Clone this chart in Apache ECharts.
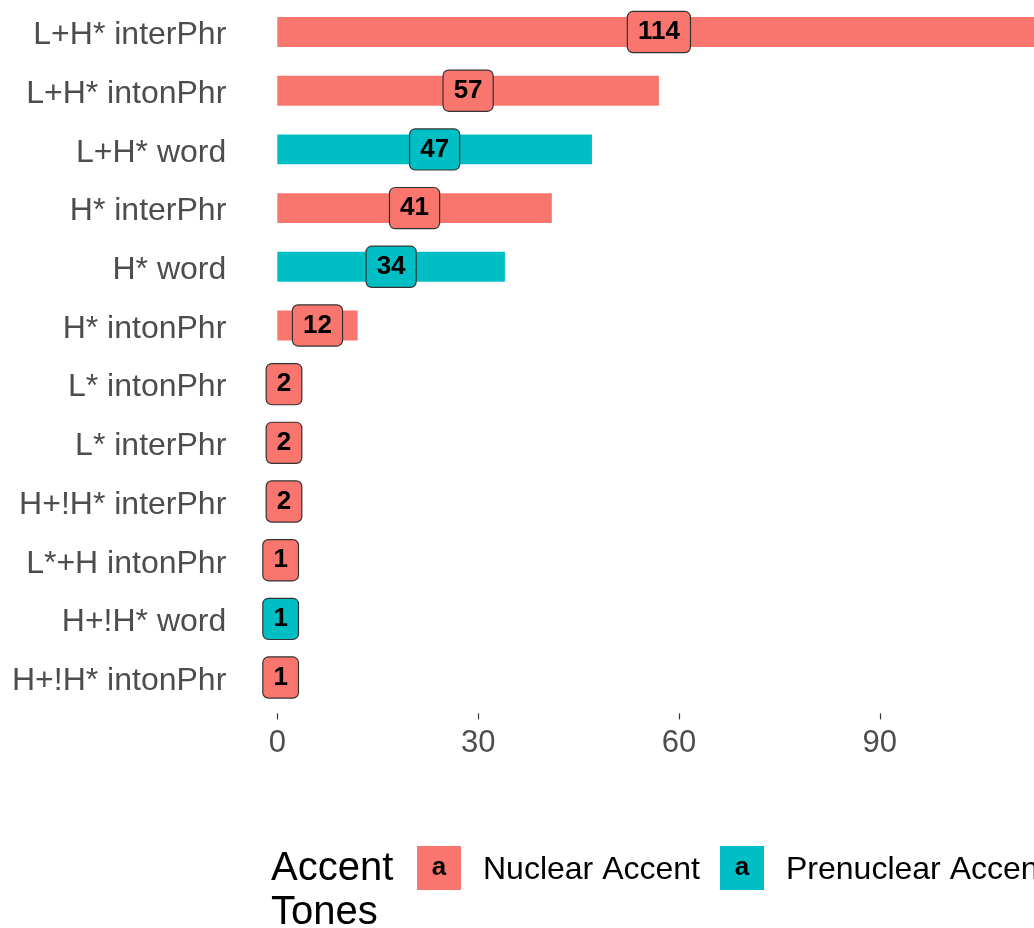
<!DOCTYPE html>
<html>
<head>
<meta charset="utf-8">
<script src="https://cdn.jsdelivr.net/npm/echarts@6.0.0/dist/echarts.min.js"></script>
<style>
  html, body { margin: 0; padding: 0; background: #fff; }
  #chart { width: 1034px; height: 928px; }
</style>
</head>
<body>
<div id="chart"></div>
<script>
// data, top row first
var categories = ['L+H* interPhr', 'L+H* intonPhr', 'L+H* word', 'H* interPhr', 'H* word', 'H* intonPhr',
  'L* intonPhr', 'L* interPhr', 'H+!H* interPhr', 'L*+H intonPhr', 'H+!H* word', 'H+!H* intonPhr'];
var counts = [114, 57, 47, 41, 34, 12, 2, 2, 2, 1, 1, 1];
var toneType = ['Nuclear Accent', 'Nuclear Accent', 'Prenuclear Accent', 'Nuclear Accent', 'Prenuclear Accent',
  'Nuclear Accent', 'Nuclear Accent', 'Nuclear Accent', 'Nuclear Accent', 'Nuclear Accent',
  'Prenuclear Accent', 'Nuclear Accent'];
var groups = ['Nuclear Accent', 'Prenuclear Accent'];
var xTicks = [0, 30, 60, 90, 120];

var colors = ['#F8766D', '#00BFC4'];
var fontFam = '"Liberation Sans", Arial, sans-serif';

var chart = echarts.init(document.getElementById('chart'));

function groupSeries(g, i) {
  return {
    name: g,
    type: 'bar',
    barWidth: '51%',
    barGap: '-100%',
    itemStyle: { color: colors[i] },
    data: counts.map(function (v, k) { return toneType[k] === g ? v : '-'; }),
    label: {
      show: true,
      position: 'inside',
      formatter: '{c}',
      color: '#000',
      fontFamily: fontFam,
      fontWeight: 'bold',
      fontSize: 26,
      lineHeight: 26,
      backgroundColor: colors[i],
      borderColor: '#333',
      borderWidth: 1.2,
      borderRadius: 5,
      padding: [8, 10, 6, 10]
    }
  };
}

// legend drawn by hand (keys with the "a" glyph like ggplot)
function legendKey(x, i, text) {
  return [
    { type: 'rect', left: x, top: 846, shape: { width: 44, height: 44 }, style: { fill: colors[i] } },
    { type: 'text', x: x + 22, y: 868, style: { text: 'a', fontFamily: fontFam, fontWeight: 'bold', fontSize: 26,
      fill: '#000', align: 'center', verticalAlign: 'middle' } },
    { type: 'text', x: x + 66, y: 870, style: { text: text, fontFamily: fontFam, fontSize: 32,
      fill: '#000', align: 'left', verticalAlign: 'middle' } }
  ];
}

var option = {
  animation: false,
  grid: { left: 277.3, right: -46.7, top: 2.7, bottom: 221.1, containLabel: false, outerBoundsMode: 'none' },
  xAxis: {
    type: 'value',
    min: xTicks[0],
    max: xTicks[xTicks.length - 1],
    interval: 30,
    offset: 6.5,
    axisLine: { show: false },
    axisTick: { show: true, length: 6, lineStyle: { color: '#333', width: 1.2 } },
    splitLine: { show: false },
    axisLabel: { color: '#4d4d4d', fontSize: 31, fontFamily: fontFam, margin: 15 }
  },
  yAxis: {
    type: 'category',
    inverse: true,
    data: categories,
    axisLine: { show: false },
    axisTick: { show: false },
    axisLabel: {
      margin: 51,
      formatter: function (v) { return '{t|' + v + '}'; },
      rich: {
        // nudged down a little, ggplot sits these slightly lower
        t: { color: '#4d4d4d', fontSize: 32, fontFamily: fontFam, lineHeight: 32, padding: [7, 0, 0, 0] }
      }
    }
  },
  series: groups.map(groupSeries),
  graphic: [
    { type: 'text', x: 271, y: 869, style: { text: 'Accent', fontFamily: fontFam, fontSize: 40, fill: '#000',
      verticalAlign: 'middle' } },
    { type: 'text', x: 271, y: 913, style: { text: 'Tones', fontFamily: fontFam, fontSize: 40, fill: '#000',
      verticalAlign: 'middle' } }
  ].concat(legendKey(417, 0, groups[0]), legendKey(720, 1, groups[1]))
};

chart.setOption(option);
</script>
</body>
</html>
